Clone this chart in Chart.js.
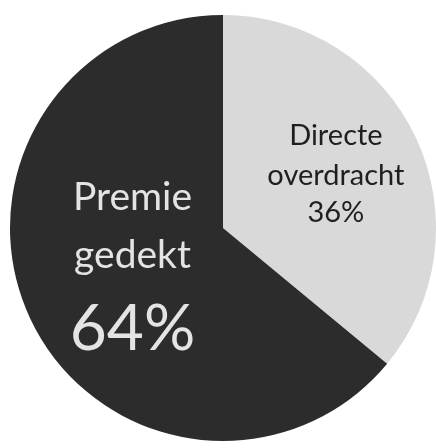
<!DOCTYPE html>
<html>
<head>
<meta charset="utf-8">
<script src="https://cdn.jsdelivr.net/npm/chart.js@4/dist/chart.umd.min.js"></script>
<style>
  html, body { margin: 0; padding: 0; background: #ffffff; }
  #wrap { width: 436px; height: 448px; }
</style>
</head>
<body>
<div id="wrap"><canvas id="myChart" width="436" height="448"></canvas></div>
<script>
// chart data
var categories = ["Directe overdracht", "Premie gedekt"];
var labelLines = [["Directe", "overdracht"], ["Premie", "gedekt"]];
var values = [36, 64];
var sliceColors = ["#d9d9d9", "#2c2c2c"];

// draws the in-slice labels, placed relative to each arc's centre and radius
var sliceLabels = {
  id: "sliceLabels",
  afterDatasetsDraw: function(chart) {
    var ctx = chart.ctx;
    var arcs = chart.getDatasetMeta(0).data;
    ctx.save();
    ctx.textAlign = "center";
    ctx.textBaseline = "alphabetic";

    // light slice: Directe overdracht 36%
    var a = arcs[0];
    var r = a.outerRadius;
    var x = a.x + r * 0.53;
    ctx.fillStyle = "#1f1f1f";
    ctx.font = "29px Lato";
    ctx.fillText(labelLines[0][0], x, a.y - r * 0.39);
    ctx.fillText(labelLines[0][1], x, a.y - r * 0.20);
    ctx.fillText(values[0] + "%", x, a.y - r * 0.03);

    // dark slice: Premie gedekt 64%
    var b = arcs[1];
    var xb = b.x - r * 0.425;
    ctx.fillStyle = "#e4e4e4";
    ctx.font = "39px Lato";
    ctx.fillText(labelLines[1][0], xb, b.y - r * 0.085);
    ctx.fillText(labelLines[1][1], xb, b.y + r * 0.19);
    ctx.font = "64px Lato";
    ctx.fillText(values[1] + "%", xb, b.y + r * 0.575);
    ctx.restore();
  }
};

var chartData = {
  labels: categories,
  datasets: [{
    data: values,
    backgroundColor: sliceColors,
    borderWidth: 0
  }]
};

var config = {
  type: "pie",
  data: chartData,
  options: {
    responsive: false,
    animation: false,
    layout: { padding: { left: 10, right: 0, top: 8, bottom: 0 } },
    plugins: {
      legend: { display: false },
      tooltip: { enabled: false }
    }
  },
  plugins: [sliceLabels]
};

var myChart = new Chart(document.getElementById("myChart"), config);
</script>
</body>
</html>
